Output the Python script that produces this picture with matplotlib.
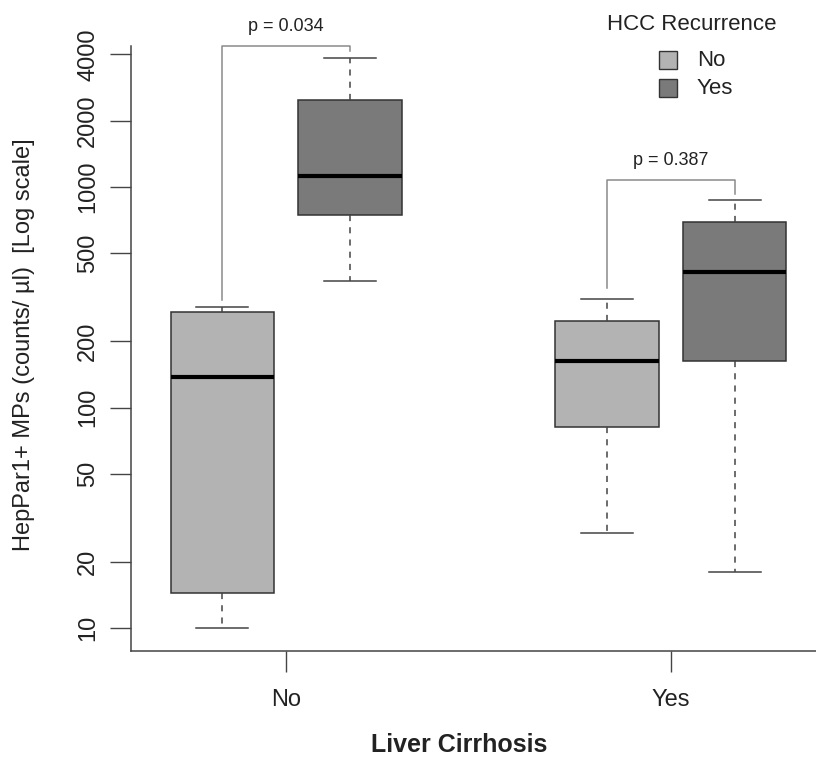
import matplotlib
matplotlib.use("Agg")
import matplotlib.pyplot as plt
from matplotlib.patches import Rectangle

plt.rcParams['font.family'] = ['Liberation Sans', 'DejaVu Sans']

# Liver cirrhosis groups, HCC recurrence within each group
groups = ['No', 'Yes']
recurrence = ['No', 'Yes']
colors = ['#b3b3b3', '#7a7a7a']

# box stats per (group, recurrence): whislo, q1, med, q3, whishi
whislo = [[10, 375], [27, 18]]
q1 = [[14.4, 748], [82, 162]]
med = [[138, 1120], [162, 412]]
q3 = [[271, 2480], [247, 693]]
whishi = [[286, 3850], [310, 875]]

p_values = ['p = 0.034', 'p = 0.387']
# bracket: left bottom, top, right bottom (y values)
bracket_y = [(307, 4361, 4120), (350, 1075, 925)]

yticks = [10, 20, 50, 100, 200, 500, 1000, 2000, 4000]

fig = plt.figure(figsize=(8.16, 7.67), dpi=100)
ax = fig.add_axes([131 / 816, 116 / 767, 685 / 816, 605 / 767])

off = 0.166
width = 0.268
for gi, g in enumerate(groups):
    for ri in range(2):
        st = [dict(whislo=whislo[gi][ri], q1=q1[gi][ri], med=med[gi][ri],
                   q3=q3[gi][ri], whishi=whishi[gi][ri], fliers=[])]
        pos = gi + 1 + (off if ri else -off)
        ax.bxp(st, positions=[pos], widths=width, patch_artist=True,
               showfliers=False,
               boxprops=dict(facecolor=colors[ri], edgecolor='#333333', linewidth=1.1),
               medianprops=dict(color='black', linewidth=3, solid_capstyle='butt'),
               whiskerprops=dict(color='#444444', linewidth=1.1, linestyle=(0, (4, 4))),
               capprops=dict(color='#444444', linewidth=1.1))

# p-value brackets
for gi in range(2):
    x1 = gi + 1 - off
    x2 = gi + 1 + off
    yl, yt, yr = bracket_y[gi]
    ax.plot([x1, x1, x2, x2], [yl, yt, yt, yr], color='#8a8a8a', lw=1.1,
            clip_on=False)
    ax.text(gi + 1, yt * 1.12, p_values[gi], ha='center', va='bottom',
            fontsize=13, color='#222222')

ax.set_yscale('log')
ax.set_ylim(7.865, 4361)
ax.set_xlim(0.597, 2.377)
ax.set_yticks(yticks)
ax.set_yticklabels([str(t) for t in yticks], rotation=90, va='center', fontsize=17)
ax.minorticks_off()
ax.set_xticks([1, 2])
ax.set_xticklabels(groups, fontsize=17)
ax.tick_params(axis='both', length=15, width=1, color='#444444', pad=12,
               labelcolor='#222222')
ax.tick_params(axis='y', pad=8)

for s in ['top', 'right']:
    ax.spines[s].set_visible(False)
for s in ['left', 'bottom']:
    ax.spines[s].set_color('#444444')
    ax.spines[s].set_linewidth(1.1)

fig.text(24 / 816, 1 - 345 / 767, 'HepPar1+ MPs (counts/ µl)  [Log scale]',
         rotation=90, ha='center', va='center', fontsize=17, color='#222222')
fig.text(459 / 816, 1 - 745 / 767, 'Liver Cirrhosis', ha='center', va='center',
         fontsize=18, fontweight='bold', color='#222222')

# legend
fig.text(692 / 816, 1 - 24 / 767, 'HCC Recurrence', ha='center', va='center',
         fontsize=16, color='#222222')
for ri, lab in enumerate(recurrence):
    yc = [60, 88][ri]
    fig.add_artist(Rectangle((659 / 816, 1 - (yc + 9) / 767), 18 / 816, 18 / 767,
                             facecolor=colors[ri], edgecolor='#333333', lw=1,
                             transform=fig.transFigure))
    fig.text(697 / 816, 1 - yc / 767, lab, ha='left', va='center',
             fontsize=16, color='#222222')

fig.savefig('out.png', dpi=100)
